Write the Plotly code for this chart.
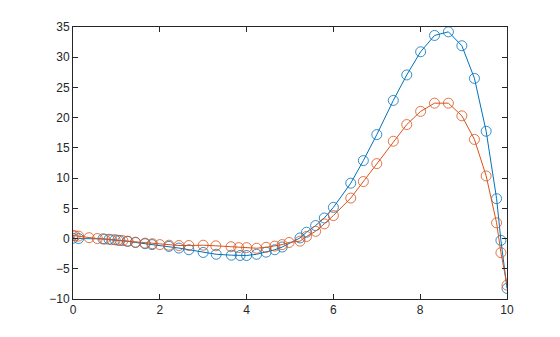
import plotly.graph_objects as go

t_blue = [0, 0.13, 0.69, 0.83, 0.97, 1.08, 1.25, 1.44, 1.66, 1.82, 2.21, 2.44, 2.67, 3.0, 3.3,
          3.65, 3.85, 4.0, 4.23, 4.45, 4.65, 4.82, 5.23, 5.38, 5.59, 5.79, 6.0, 6.4, 6.69, 7.0,
          7.38, 7.69, 8.01, 8.33, 8.65, 8.96, 9.25, 9.52, 9.76, 9.86, 10.0]
y_blue = [0.05, 0.0, -0.05, -0.12, -0.2, -0.3, -0.45, -0.65, -0.85, -1.0, -1.3, -1.57, -1.85, -2.3, -2.6,
          -2.75, -2.8, -2.8, -2.6, -2.25, -1.85, -1.4, 0.1, 1.05, 2.15, 3.4, 5.16, 9.16, 12.9, 17.2,
          22.85, 27.07, 30.9, 33.6, 34.2, 31.9, 26.5, 17.75, 6.6, -0.3, -8.25]

t_orange = [0, 0.05, 0.13, 0.37, 0.56, 0.73, 0.89, 1.03, 1.15, 1.27, 1.44, 1.66, 1.83, 2.0, 2.21,
            2.44, 2.67, 3.0, 3.29, 3.64, 3.82, 4.0, 4.23, 4.45, 4.65, 4.82, 4.98, 5.23, 5.38, 5.59,
            5.79, 6.0, 6.4, 6.69, 7.0, 7.38, 7.69, 8.01, 8.33, 8.65, 8.96, 9.25, 9.52, 9.76, 9.86, 10.0]
y_orange = [0.5, 0.45, 0.4, 0.15, 0.0, -0.1, -0.2, -0.28, -0.35, -0.45, -0.6, -0.75, -0.85, -1.0, -1.1,
            -1.15, -1.15, -1.1, -1.2, -1.35, -1.5, -1.5, -1.6, -1.45, -1.25, -1.0, -0.65, -0.43, 0.34, 1.2,
            2.43, 3.8, 6.7, 9.43, 12.4, 16.1, 18.86, 21.04, 22.4, 22.4, 20.3, 16.4, 10.36, 2.6, -2.33, -7.7]

x_ticks = [0, 2, 4, 6, 8, 10]
y_ticks = [-10, -5, 0, 5, 10, 15, 20, 25, 30, 35]

fig = go.Figure()
for t, y, c in [(t_blue, y_blue, "#0072BD"), (t_orange, y_orange, "#D95319")]:
    fig.add_trace(go.Scatter(
        x=t, y=y, mode="lines+markers",
        line=dict(color=c, width=1),
        marker=dict(symbol="circle-open", size=10, color=c, line=dict(width=0.8)),
        showlegend=False,
    ))

axis_common = dict(
    showline=True, linecolor="#262626", linewidth=1, mirror="ticks",
    ticks="inside", ticklen=5, tickcolor="#262626", tickwidth=1,
    showgrid=False, zeroline=False,
    tickfont=dict(family="Liberation Sans, Arial", size=12, color="#262626"),
)
fig.update_xaxes(range=[0, 10], tickvals=x_ticks, **axis_common)
fig.update_yaxes(range=[-10, 35], tickvals=y_ticks, **axis_common)
fig.update_layout(
    width=552, height=329,
    margin=dict(l=65, r=53, t=17, b=38),
    paper_bgcolor="white", plot_bgcolor="white",
)
fig.write_html("out.html")
